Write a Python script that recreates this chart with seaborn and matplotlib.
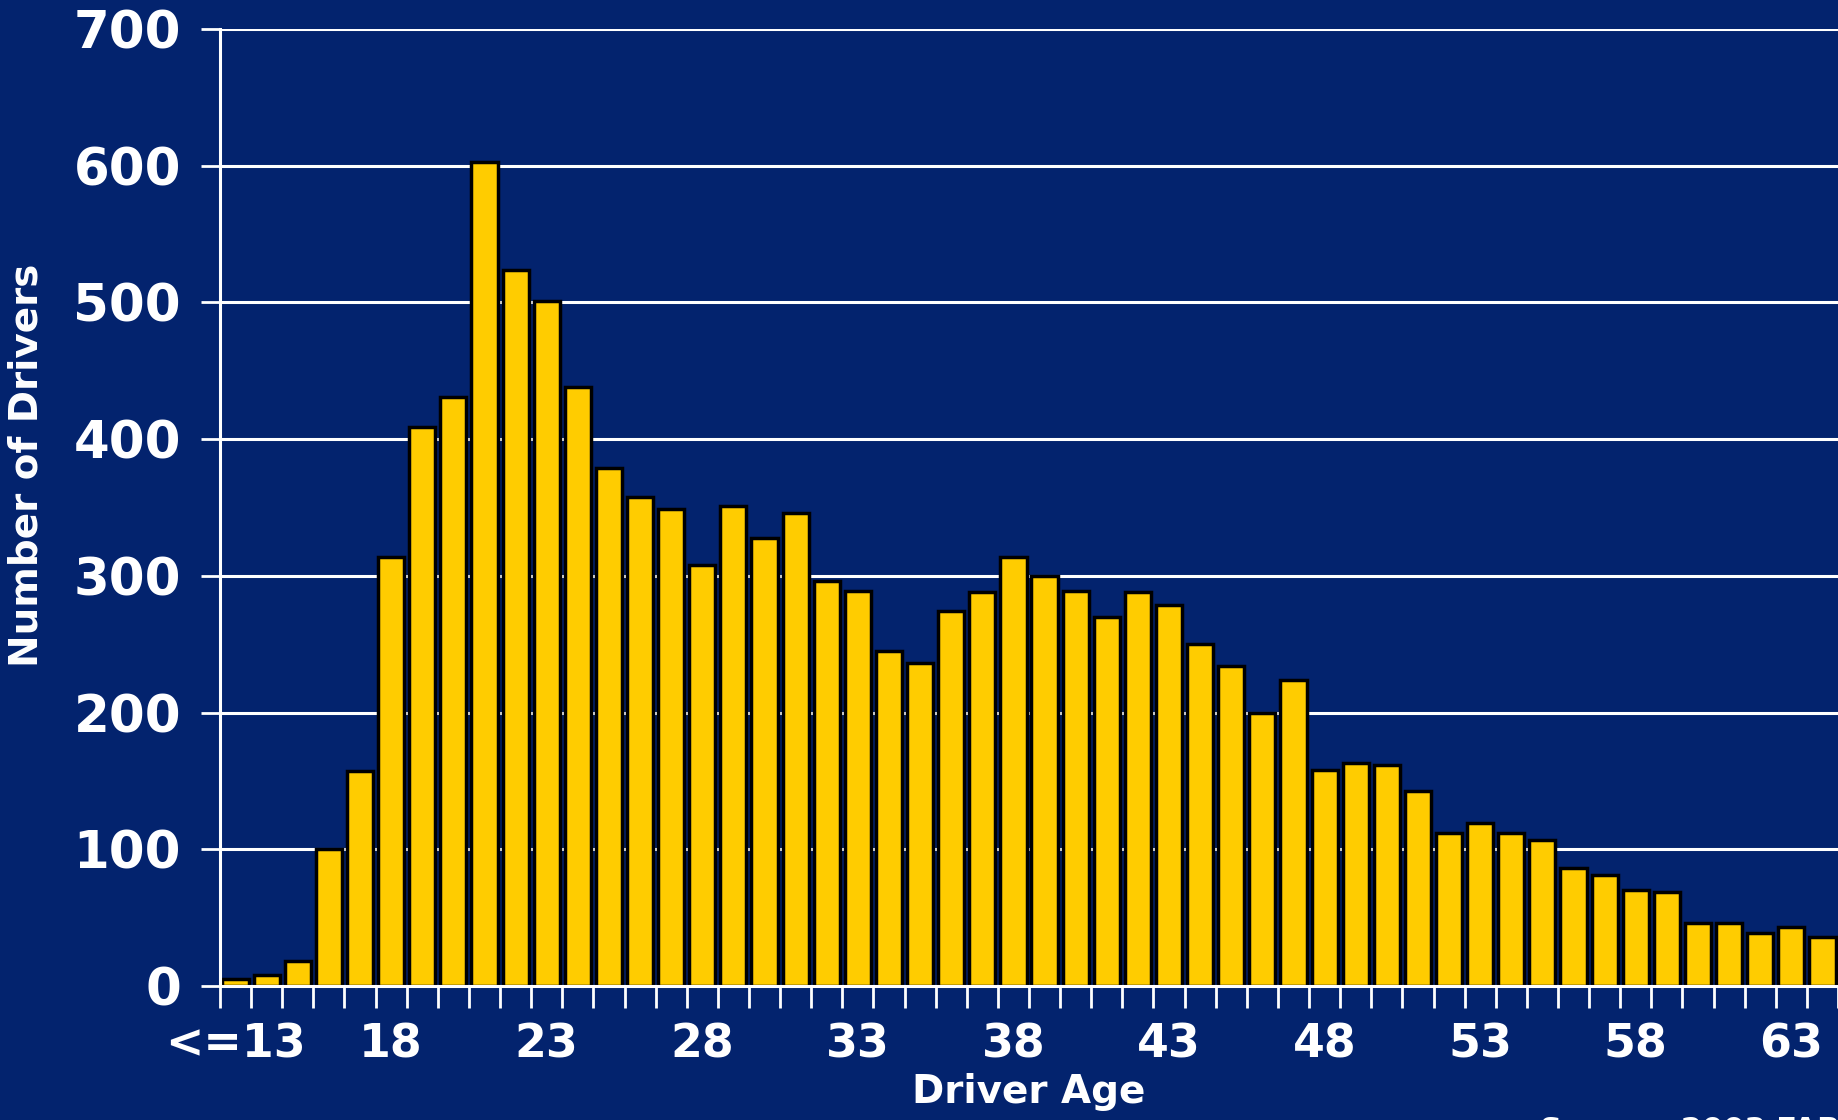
import numpy as np
import pandas as pd
import seaborn as sns
import matplotlib.pyplot as plt
from matplotlib.ticker import FixedLocator

# driver counts by age, <=13 through 64
ages = ['<=13'] + [str(a) for a in range(14, 65)]
drivers = [5, 8, 18, 100, 157, 314, 409, 431, 603, 524, 501, 438, 379, 358, 349,
           308, 351, 328, 346, 296, 289, 245, 236, 274, 288, 314, 300, 289, 270,
           288, 279, 250, 234, 200, 224, 158, 163, 162, 143, 112, 119, 112, 107,
           86, 81, 70, 69, 46, 46, 39, 43, 36]
tick_labels = ['<=13', '18', '23', '28', '33', '38', '43', '48', '53', '58', '63']

navy = '#03236E'
gold = '#FFCC00'

d = pd.DataFrame({'Age': ages, 'Drivers': drivers})

sns.set_style('dark')
plt.rcParams['font.family'] = ['DejaVu Sans']
plt.rcParams['font.weight'] = 'bold'

fig = plt.figure(figsize=(18.38, 11.2), dpi=100, facecolor=navy)
ax = fig.add_axes([0.1197, 0.1196, 0.8803, 0.8545])
ax.set_facecolor(navy)

sns.barplot(x='Age', y='Drivers', data=d, color=gold, width=0.84,
            edgecolor='black', linewidth=2.5, saturation=1, ax=ax)

ax.set_ylim(0, 700)
ax.set_xlim(-0.5, len(ages) - 0.5)
ax.set_yticks(range(0, 701, 100))
ax.yaxis.grid(True, color='white', linewidth=2.2)
ax.xaxis.grid(False)
ax.set_axisbelow(True)

ax.set_xticks(range(0, len(ages), 5))
ax.set_xticklabels(tick_labels)
ax.xaxis.set_minor_locator(FixedLocator(np.arange(-0.5, len(ages), 1)))
ax.tick_params(axis='x', which='major', length=0, pad=26, labelsize=33, colors='white')
ax.tick_params(axis='x', which='minor', length=16, width=2, color='white', bottom=True)
ax.tick_params(axis='y', length=14, width=2, color='white', labelsize=37,
               labelcolor='white', pad=14, left=True)

for s in ['top', 'right']:
    ax.spines[s].set_visible(False)
ax.spines['left'].set_color('white')
ax.spines['left'].set_linewidth(2.2)
ax.spines['bottom'].set_color('white')
ax.spines['bottom'].set_linewidth(2.2)

ax.set_xlabel('Driver Age', size=28, color='white', fontweight='bold', labelpad=4)
ax.set_ylabel('Number of Drivers', size=28, color='white', fontweight='bold')
ax.yaxis.set_label_coords(-0.108, 0.544)

fig.text(0.838, 0.004, 'Source: 2003 FARS', color='white', size=22,
         fontweight='bold', va='top', ha='left')

plt.savefig('out.png', dpi=100, facecolor=navy)
